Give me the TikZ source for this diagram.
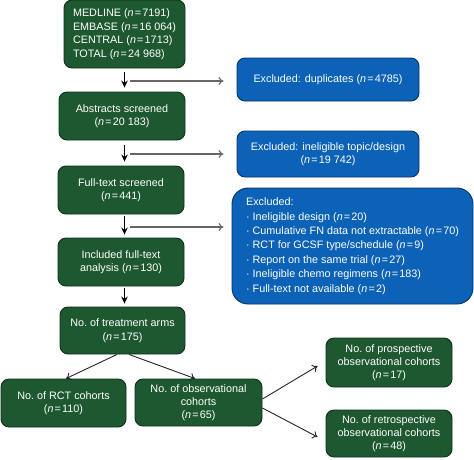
\documentclass[tikz,border=0pt]{standalone}
\usepackage{fontspec}
\setmainfont{Liberation Sans}
\usepackage{xcolor}
\usetikzlibrary{arrows.meta,calc}
\definecolor{boxgreen}{RGB}{30,88,48}
\definecolor{edgegreen}{RGB}{14,48,26}
\definecolor{boxblue}{RGB}{12,98,182}
\definecolor{edgeblue}{RGB}{8,52,100}
\tikzset{
  gbox/.style={draw=edgegreen,fill=boxgreen,text=white,rounded corners=8pt,line width=0.9pt,align=center,inner sep=0pt},
  bbox/.style={draw=edgeblue,fill=boxblue,text=white,rounded corners=8pt,line width=0.9pt,align=center,inner sep=0pt},
  wh/.style 2 args={minimum width=#1pt,minimum height=#2pt},
  down/.style={line width=1pt,-{Stealth[length=7pt,width=6.5pt]}},
  side/.style={line width=1.1pt,black!60,-{To[length=5pt,width=8pt]}},
  split/.style={line width=0.9pt,black!85,-{To[length=5pt,width=8pt]}}
}
\newcommand{\nv}[1]{(\textit{n}\kern1.2pt=\kern1.2pt#1)}
\newcommand{\bul}{\textperiodcentered\kern3pt}

\begin{document}
\begin{tikzpicture}[x=1pt,y=-1pt,font=\fontsize{10.8pt}{13.6pt}\selectfont]
\useasboundingbox (0,0) rectangle (474,459);
\node[gbox,wh={121}{68},align=left] (db) at (124.5,34) {MEDLINE \nv{7191}\\EMBASE \nv{16 064}\\CENTRAL \nv{1713}\\TOTAL \nv{24 968}};
\node[gbox,wh={126}{48}] (abs) at (122,116) {Abstracts screened\\\nv{20 183}};
\node[gbox,wh={126}{48}] (full) at (121,190) {Full-text screened\\\nv{441}};
\node[gbox,wh={126}{48}] (incl) at (121,262) {Included full-text\\analysis \nv{130}};
\node[gbox,wh={125}{47}] (arms) at (122.5,330.5) {No.\ of treatment arms\\\nv{175}};
\node[gbox,wh={125}{48}] (rct) at (63.5,403) {No.\ of RCT cohorts\\\nv{110}};
\node[gbox,wh={127}{47},font=\fontsize{10.8pt}{13pt}\selectfont] (obs) at (198.5,402.5) {No.\ of observational\\cohorts\\\nv{65}};
\node[gbox,wh={126}{49},font=\fontsize{10.8pt}{13pt}\selectfont] (pro) at (389,362.5) {No.\ of prospective\\observational cohorts\\\nv{17}};
\node[gbox,wh={126}{47},font=\fontsize{10.8pt}{13pt}\selectfont] (retro) at (389,433.5) {No.\ of retrospective\\observational cohorts\\\nv{48}};
\node[bbox,wh={182}{43}] (exdup) at (328,79.5) {Excluded: duplicates \nv{4785}};
\node[bbox,wh={182}{46}] (extop) at (328,154) {Excluded: ineligible topic/design\\\nv{19 742}};
\node[bbox,wh={241}{116},align=left,rounded corners=16pt,font=\fontsize{10.8pt}{14.4pt}\selectfont] (exfull) at (352.5,246) {Excluded:\\
  \bul Ineligible design \nv{20}\\
  \bul Cumulative FN data not extractable \nv{70}\\
  \bul RCT for GCSF type/schedule \nv{9}\\
  \bul Report on the same trial \nv{27}\\
  \bul Ineligible chemo regimens \nv{183}\\
  \bul Full-text not available \nv{2}};
\draw[down] ($(db.south)+(0pt,-4pt)$) -- ($(db.south |- abs.north)+(0pt,4pt)$);
\draw[down] ($(db.south |- abs.south)+(0pt,-5pt)$) -- ($(db.south |- full.north)+(0pt,4pt)$);
\draw[down] ($(db.south |- full.south)+(0pt,-2pt)$) -- ($(db.south |- incl.north)+(0pt,3pt)$);
\draw[down] ($(db.south |- incl.south)+(0pt,-2pt)$) -- ($(db.south |- arms.north)+(0pt,3pt)$);
\coordinate (t1) at (130,81);
\coordinate (t2) at (130,154);
\coordinate (t3) at (130,227);
\draw[side,shorten >=13pt] (t1) -- (t1 -| exdup.west);
\draw[side,shorten >=13pt] (t2) -- (t2 -| extop.west);
\draw[side,shorten >=8pt] (t3) -- (t3 -| exfull.west);
\draw[split] ([xshift=-5.5pt]arms.south) -- ([xshift=2.5pt]rct.north);
\draw[split] ([xshift=6.5pt]arms.south) -- ([xshift=-3.5pt]obs.north);
\draw[split] ([yshift=3.5pt]obs.east) -- ([xshift=-8pt,yshift=-3.5pt]pro.west);
\draw[split] ([yshift=-5.5pt]obs.east) -- ([xshift=-8pt,yshift=-3.5pt]retro.west);
\end{tikzpicture}
\end{document}
